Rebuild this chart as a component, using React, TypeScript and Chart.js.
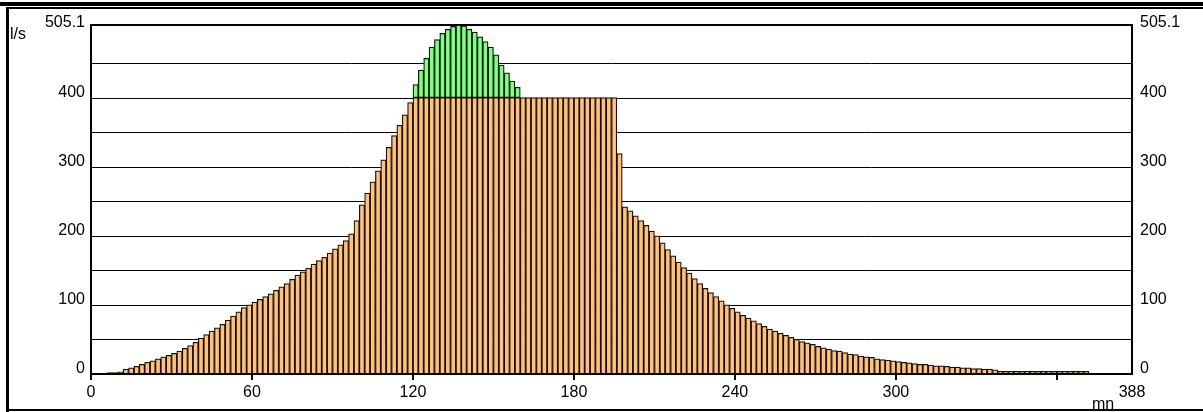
import { useEffect, useRef } from 'react';
import { Chart, registerables } from 'chart.js';

Chart.register(...registerables);

// ---- data ----
const stepMinutes = 2;
const startMinute = 0;
// discharge (l/s) limited to 400, one value per 2-minute step starting at t=0
const limitedFlow = [
  0, 0, 0, 2, 2, 3, 7, 9, 11, 14,
  17, 19, 22, 25, 27, 30, 33, 37, 41, 46,
  52, 57, 62, 67, 72, 78, 84, 90, 96, 100,
  104, 108, 112, 116, 121, 126, 131, 137, 143, 148,
  153, 159, 164, 169, 175, 181, 187, 193, 203, 222,
  245, 262, 278, 294, 310, 328, 345, 360, 375, 393,
  400, 400, 400, 400, 400, 400, 400, 400, 400, 400,
  400, 400, 400, 400, 400, 400, 400, 400, 400, 400,
  400, 400, 400, 400, 400, 400, 400, 400, 400, 400,
  400, 400, 400, 400, 400, 400, 400, 400, 319, 242,
  236, 229, 222, 215, 207, 200, 190, 180, 171, 162,
  154, 146, 138, 131, 124, 118, 112, 106, 100, 95,
  90, 85, 81, 77, 73, 69, 65, 62, 59, 56,
  53, 50, 47, 45, 43, 40, 38, 36, 34, 33,
  31, 29, 28, 26, 25, 24, 22, 21, 20, 19,
  18, 17, 16, 15, 14, 14, 13, 12, 12, 11,
  10, 10, 9, 9, 8, 8, 7, 7, 6, 4,
  4, 4, 4, 4, 4, 4, 4, 4, 4, 4,
  4, 4, 4, 4, 4, 4,
];
// overflow above 400 l/s, starting at t=120
const overflowStartMinute = 120;
const overflowFlow = [
  19, 40, 57, 73, 84, 93, 99, 103, 105.1, 104,
  99, 95, 88, 81, 73, 62, 47, 36, 24, 15,
];
const xTickValues = [0, 60, 120, 180, 240, 300, 360];
const xTickLabels = ['0', '60', '120', '180', '240', '300', ''];
const xMax = 388;
const yMax = 505.1;
const yGridValues = [50, 100, 150, 200, 250, 300, 350, 400, 450];
const yTickValues = [0, 100, 200, 300, 400, 505.1];
const yTickLabels = ['0', '100', '200', '300', '400', '505.1'];
const yUnit = 'l/s';
const xUnit = 'mn';

const FONT = '16px "Liberation Sans", Arial, sans-serif';

const decorPlugin = {
  id: 'decor',
  beforeDatasetsDraw(chart: any) {
    const { ctx, chartArea: a, scales } = chart;
    const y = scales.y;
    ctx.save();
    ctx.strokeStyle = '#000';
    ctx.lineWidth = 1;
    for (const v of yGridValues) {
      const py = Math.round(y.getPixelForValue(v)) + 0.5;
      ctx.beginPath();
      ctx.moveTo(a.left, py);
      ctx.lineTo(a.right, py);
      ctx.stroke();
    }
    ctx.restore();
  },
  afterDatasetsDraw(chart: any) {
    const { ctx, chartArea: a, scales, width, height } = chart;
    const x = scales.x;
    const y = scales.y;
    ctx.save();
    ctx.fillStyle = '#000';
    // outer frame
    ctx.fillRect(0, 2, width, 4);
    ctx.fillRect(6, 7, width - 6, 2);
    ctx.fillRect(6, 7, 3, height - 7);
    ctx.fillRect(6, 409, width - 6, 2);

    const L = Math.round(a.left);
    const R = Math.round(a.right);
    const T = Math.round(a.top);
    const B = Math.round(a.bottom);
    // plot frame
    ctx.fillRect(L - 1, T - 1, R - L + 2, 2); // top
    ctx.fillRect(L - 1, T - 1, 2, B - T + 7); // left axis incl. tick
    ctx.fillRect(R - 1, T - 1, 2, B - T + 1); // right axis
    ctx.fillRect(L - 1, B - 1, R - L + 2, 2); // bottom axis
    // x ticks
    for (const v of xTickValues) {
      const px = Math.round(x.getPixelForValue(v));
      ctx.fillRect(px - 1, B, 2, 6);
    }
    ctx.font = FONT;
    ctx.textBaseline = 'alphabetic';
    ctx.textAlign = 'center';
    xTickValues.forEach((v, i) => {
      const lbl = xTickLabels[i];
      if (lbl) ctx.fillText(lbl, x.getPixelForValue(v), 397);
    });
    ctx.fillText(String(xMax), x.getPixelForValue(xMax), 397);
    ctx.textAlign = 'left';
    ctx.fillText(xUnit, 1092, 409);
    // y labels
    yTickValues.forEach((v, i) => {
      const py = y.getPixelForValue(v);
      const base = v === yMax ? py + 2 : py - 1;
      ctx.textAlign = 'right';
      ctx.fillText(yTickLabels[i], L - 6, base);
      ctx.textAlign = 'left';
      ctx.fillText(yTickLabels[i], R + 8, base);
    });
    ctx.textAlign = 'left';
    ctx.fillText(yUnit, 10, 39);
    ctx.restore();
  },
};

export default function App() {
  const ref = useRef<HTMLCanvasElement | null>(null);
  useEffect(() => {
    document.body.style.margin = '0';
    const canvas = ref.current!;
    const base = limitedFlow.map((v, i) => ({ x: startMinute + i * stepMinutes + stepMinutes / 2, y: v }));
    const over = overflowFlow.map((v, i) => ({ x: overflowStartMinute + i * stepMinutes + stepMinutes / 2, y: v }));
    const chart = new Chart(canvas, {
      type: 'bar',
      data: {
        datasets: [
          {
            label: 'limited',
            data: base as any,
            backgroundColor: '#FFC080',
            borderColor: '#1a1208',
            borderWidth: 1.25,
            borderSkipped: false,
            barPercentage: 1,
            categoryPercentage: 1,
            stack: 's',
          },
          {
            label: 'overflow',
            data: over as any,
            backgroundColor: '#80FF80',
            borderColor: '#0a1a0a',
            borderWidth: 1.25,
            borderSkipped: false,
            barPercentage: 1,
            categoryPercentage: 1,
            stack: 's',
          },
        ],
      },
      options: {
        responsive: false,
        animation: false,
        devicePixelRatio: 1,
        layout: { padding: { left: 91, right: 1203 - 1132, top: 25, bottom: 412 - 374 } },
        plugins: { legend: { display: false }, tooltip: { enabled: false } },
        scales: {
          x: { type: 'linear', display: false, offset: false, min: 0, max: xMax, stacked: true },
          y: { display: false, min: 0, max: yMax, stacked: true },
        },
      },
      plugins: [decorPlugin],
    });
    return () => chart.destroy();
  }, []);
  return (
    <div style={{ position: 'absolute', left: 0, top: 0, width: 1203, height: 412, background: '#fff' }}>
      <canvas ref={ref} width={1203} height={412} style={{ display: 'block' }} />
    </div>
  );
}
